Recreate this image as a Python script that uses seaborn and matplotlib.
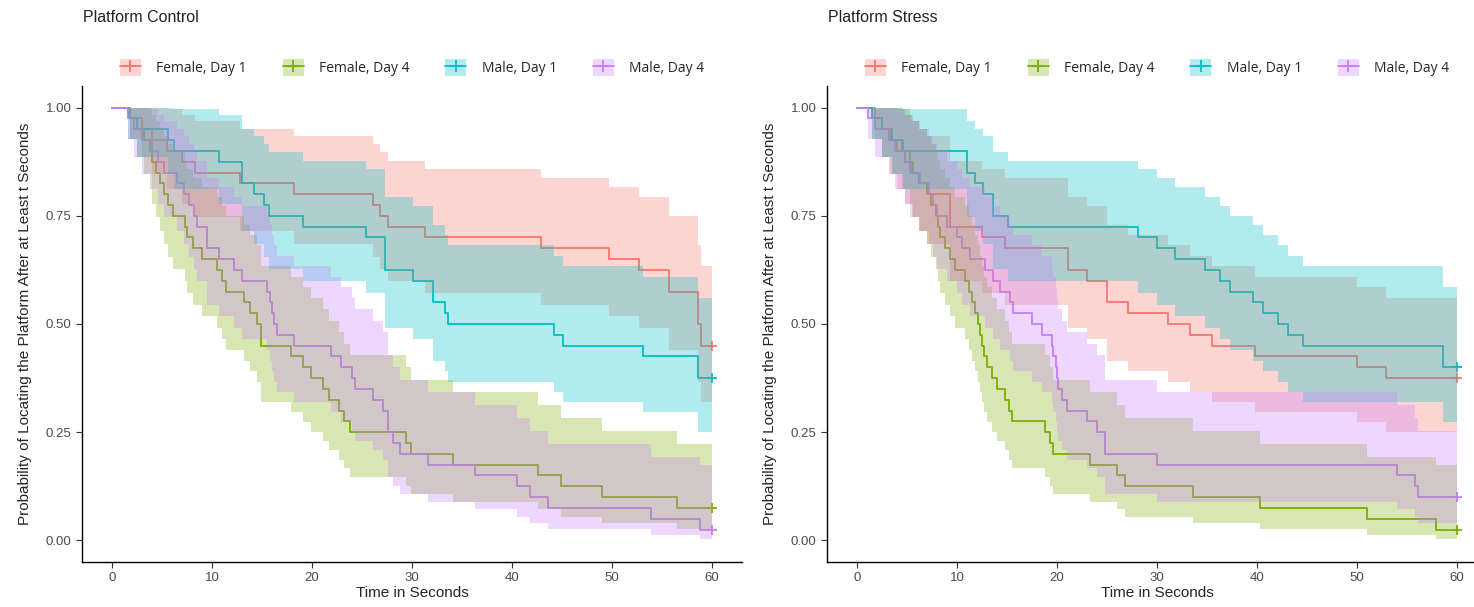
import numpy as np
import pandas as pd
import matplotlib
matplotlib.use("Agg")
import matplotlib.pyplot as plt
import seaborn as sns
from matplotlib.patches import Patch
from matplotlib.lines import Line2D
from matplotlib.ticker import FormatStrFormatter

# --- Data: times (s) at which each animal found the platform, n=40 per group,
# --- everyone else censored at 60 s
N_PER_GROUP = 40
END_TIME = 60

groups = ["Female, Day 1", "Female, Day 4", "Male, Day 1", "Male, Day 4"]
colors = ["#F8766D", "#7CAE00", "#00BFC4", "#C77CFF"]

ctrl_f1 = [1.8, 3.0, 4.0, 5.5, 7.0, 8.3, 12.8, 18.2, 26.1, 26.8, 27.6, 31.3, 42.9,
           49.7, 52.7, 55.7, 55.7, 58.6, 58.6, 58.6, 58.9, 58.9]
ctrl_f4 = [1.8, 2.5, 3.2, 3.8, 4.0, 4.4, 4.8, 5.2, 5.6, 6.1, 7.3, 7.5, 8.1, 9.0,
           10.5, 11.0, 11.4, 13.2, 13.8, 14.5, 14.9, 14.9, 17.9, 19.1, 19.9, 21.1,
           21.7, 22.7, 23.2, 23.8, 29.4, 29.9, 34.1, 42.6, 44.9, 49.0, 56.5]
ctrl_m1 = [1.6, 2.5, 5.6, 6.2, 10.7, 13.0, 13.0, 14.2, 15.2, 15.7, 19.1, 25.4, 27.3,
           27.3, 27.3, 30.1, 32.1, 32.1, 33.3, 33.6, 44.2, 45.1, 53.1, 58.6, 58.6]
ctrl_m4 = [1.6, 2.2, 3.0, 4.0, 4.6, 5.2, 6.5, 7.2, 7.7, 8.2, 8.5, 9.5, 9.5, 10.7,
           12.2, 13.0, 15.5, 15.8, 16.0, 16.2, 16.5, 18.2, 21.9, 22.9, 24.0, 24.3,
           26.1, 27.1, 27.6, 27.6, 28.1, 28.8, 31.6, 36.3, 40.5, 41.8, 43.6, 53.9, 58.8]

stress_f1 = [1.8, 2.5, 3.2, 4.0, 4.8, 5.5, 6.2, 7.0, 9.3, 9.3, 9.3, 12.5, 14.8, 21.1,
             21.1, 23.0, 25.0, 25.0, 27.1, 31.1, 33.3, 35.5, 39.8, 50.0, 52.9]
stress_f4 = [1.5, 2.5, 3.5, 4.5, 5.3, 5.6, 6.2, 7.0, 7.4, 7.9, 8.1, 8.3, 8.8, 9.3,
             9.8, 10.8, 11.2, 11.5, 11.8, 12.1, 12.3, 12.5, 12.7, 13.0, 13.5, 14.0,
             14.8, 15.2, 15.5, 18.8, 19.3, 19.6, 23.3, 26.0, 26.8, 33.6, 40.3, 51.0, 57.9]
stress_m1 = [1.5, 2.5, 3.5, 4.6, 11.0, 11.0, 11.8, 12.6, 13.6, 13.6, 15.1, 28.1, 30.0,
             31.8, 34.8, 36.3, 37.3, 39.6, 40.6, 42.1, 43.1, 44.6, 58.6, 58.6]
stress_m4 = [1.1, 1.8, 3.3, 3.8, 4.8, 5.3, 6.3, 7.2, 7.6, 8.0, 9.0, 10.0, 10.5, 11.3,
             12.8, 13.6, 14.3, 15.3, 15.6, 17.5, 18.5, 19.5, 19.6, 19.9, 20.0, 20.1,
             20.5, 21.0, 23.0, 24.0, 24.8, 24.8, 30.0, 54.0, 55.8, 56.1]

panels = [
    ("Platform Control", [ctrl_f1, ctrl_f4, ctrl_m1, ctrl_m4]),
    ("Platform Stress", [stress_f1, stress_f4, stress_m1, stress_m4]),
]


def kaplan_meier(events, n=N_PER_GROUP, end=END_TIME):
    # KM estimate with log-type Greenwood CI (survfit default)
    times, d = np.unique(np.asarray(events, dtype=float), return_counts=True)
    at_risk = n - np.concatenate([[0], np.cumsum(d)[:-1]])
    surv = np.cumprod(1 - d / at_risk)
    se = np.sqrt(np.cumsum(d / (at_risk * (at_risk - d))))
    lo = surv * np.exp(-1.96 * se)
    hi = np.minimum(1.0, surv * np.exp(1.96 * se))
    t = np.concatenate([[0], times, [end]])
    surv = np.concatenate([[1], surv, [surv[-1]]])
    lo = np.concatenate([[1], lo, [lo[-1]]])
    hi = np.concatenate([[1], hi, [hi[-1]]])
    return pd.DataFrame({"time": t, "surv": surv, "lower": lo, "upper": hi})


sns.set_theme(style="white")
plt.rcParams["font.family"] = ["Liberation Sans", "DejaVu Sans"]

W, H = 1474, 607
fig = plt.figure(figsize=(W / 100, H / 100), dpi=100)
axes_left = [82, 827]
title_x = [83, 828]

for (title, event_lists), left_px, tx in zip(panels, axes_left, title_x):
    ax = fig.add_axes([left_px / W, 45 / H, 660 / W, 476 / H])

    curves = []
    for g, ev in zip(groups, event_lists):
        km = kaplan_meier(ev)
        km["group"] = g
        curves.append(km)
    df = pd.concat(curves, ignore_index=True)

    sns.lineplot(data=df, x="time", y="surv", hue="group", hue_order=groups,
                 palette=colors, estimator=None, sort=False, drawstyle="steps-post",
                 lw=1.3, legend=False, ax=ax, zorder=1)

    for g, c in zip(groups, colors):
        sub = df[df["group"] == g]
        ax.fill_between(sub["time"], sub["lower"], sub["upper"], step="post",
                        color=c, alpha=0.3, lw=0, zorder=2)
        ax.plot(END_TIME, sub["surv"].iloc[-1], marker="+", ms=7, mew=1.3,
                color=c, zorder=1.5)

    ax.set_xlim(-3, 63)
    ax.set_ylim(-0.05, 1.05)
    ax.set_xticks([0, 10, 20, 30, 40, 50, 60])
    ax.set_yticks([0, 0.25, 0.5, 0.75, 1.0])
    ax.yaxis.set_major_formatter(FormatStrFormatter("%.2f"))
    ax.set_xlabel("Time in Seconds", fontsize=11, labelpad=1)
    ax.set_ylabel("Probability of Locating the Platform After at Least t Seconds",
                  fontsize=11, labelpad=10)
    sns.despine(ax=ax)
    for s in ["left", "bottom"]:
        ax.spines[s].set_color("black")
        ax.spines[s].set_linewidth(1.0)
    ax.tick_params(axis="both", which="major", direction="out", length=4, width=0.8,
                   color="#333333", labelcolor="#4D4D4D", labelsize=9.5,
                   bottom=True, left=True)
    ax.grid(False)

    handles = [(Patch(facecolor=c, alpha=0.3, edgecolor="none"),
                Line2D([], [], color=c, lw=1.3, marker="+", ms=8, mew=1.3))
               for c in colors]
    ax.legend(handles, groups, loc="center", bbox_to_anchor=(0.5, 1.038),
              ncol=4, frameon=False, handlelength=1.5, handleheight=1.5,
              handletextpad=1.1, columnspacing=2.6,
              prop={"family": ["Open Sans", "DejaVu Sans"], "size": 10})

    fig.text(tx / W, 1 - 18 / H, title, fontsize=11.5, ha="left", va="center",
             color="#222222")

fig.savefig("out.png", dpi=100)
